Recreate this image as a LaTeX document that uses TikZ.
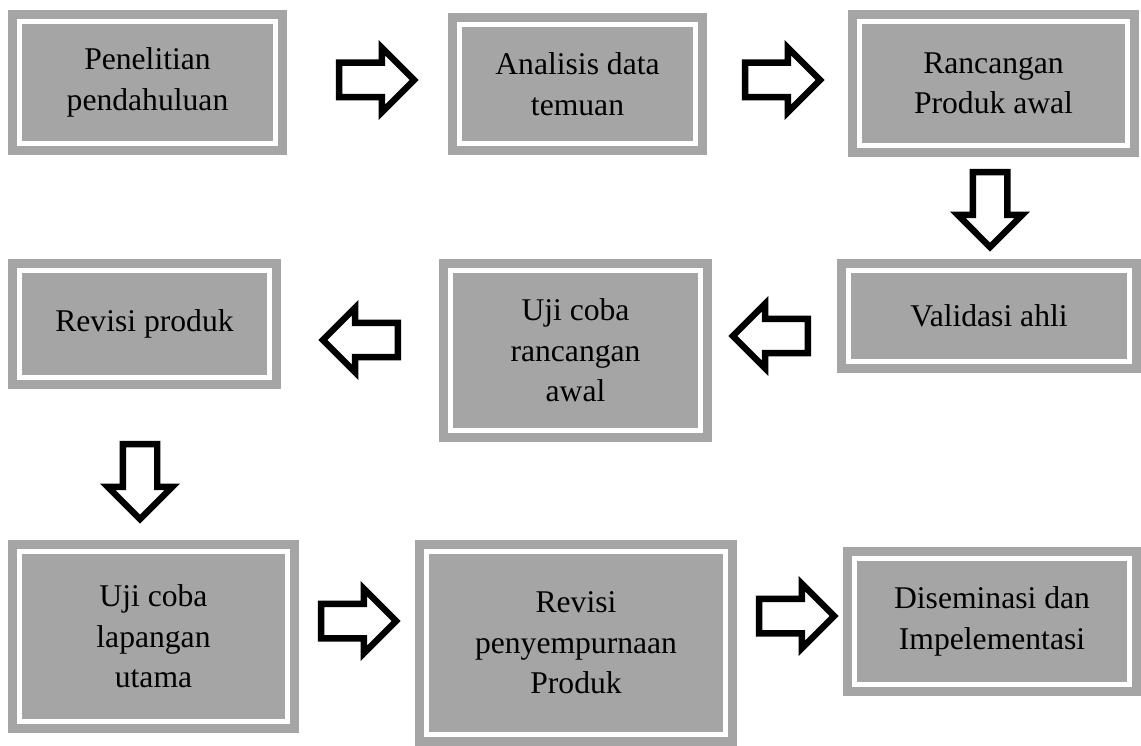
\documentclass[tikz,border=0pt]{standalone}
\usepackage{fontspec}
\setmainfont{Liberation Serif}
\usetikzlibrary{shapes.arrows}
\definecolor{boxgray}{HTML}{A5A5A5}
\tikzset{
  stepbox/.style={draw=boxgray, fill=boxgray, double=white, line width=0.18cm,
    double distance=0.09cm, align=center, inner sep=0pt,
    font=\fontsize{18}{23}\selectfont},
  blockarrow/.style={single arrow, draw=black, fill=white, line width=0.13cm,
    minimum height=1.5cm, minimum width=1.16cm, single arrow head extend=0.3cm,
    inner xsep=0pt, inner ysep=0.28cm}
}
\begin{document}
\begin{tikzpicture}[x=0.02cm, y=-0.02cm]
        \useasboundingbox (0,0) rectangle (1141,746);
        % first row
        \node[stepbox, minimum width=5.13cm, minimum height=2.45cm] (pen) at (147.5,82.5) {Penelitian\\pendahuluan};
        \node[stepbox, minimum width=4.73cm, minimum height=2.39cm] (ana) at (577.5,84) {Analisis data\\temuan};
        \node[stepbox, minimum width=5.37cm, minimum height=2.49cm] (ran) at (993.5,83.5) {Rancangan\\Produk awal};
        % second row
        \node[stepbox, minimum width=5.63cm, minimum height=1.83cm] (val) at (989,316) {Validasi ahli};
        \node[stepbox, minimum width=5.01cm, minimum height=3.21cm] (ujr) at (575.5,350.5) {Uji coba\\rancangan\\awal};
        \node[stepbox, minimum width=5.01cm, minimum height=2.15cm] (rev) at (144.5,324) {Revisi produk};
        % third row
        \node[stepbox, minimum width=5.37cm, minimum height=3.41cm] (ujl) at (153.5,636.5) {Uji coba\\lapangan\\utama};
        \node[stepbox, minimum width=5.99cm, minimum height=3.67cm] (rvp) at (576,643) {Revisi\\penyempurnaan\\Produk};
        \node[stepbox, minimum width=5.51cm, minimum height=2.53cm] (dis) at (992,621.5) {Diseminasi dan\\Impelementasi};
        % block arrows
        \node[blockarrow] (arr1) at (368,80) {};
        \node[blockarrow] (arr2) at (774,80) {};
        \node[blockarrow, rotate=-90] (arr3) at (990,201) {};
        \node[blockarrow, rotate=180] (arr4) at (779,336) {};
        \node[blockarrow, rotate=180] (arr5) at (369,340) {};
        \node[blockarrow, rotate=-90] (arr6) at (140,473) {};
        \node[blockarrow] (arr7) at (350,621) {};
        \node[blockarrow] (arr8) at (788,616) {};
\end{tikzpicture}
\end{document}
